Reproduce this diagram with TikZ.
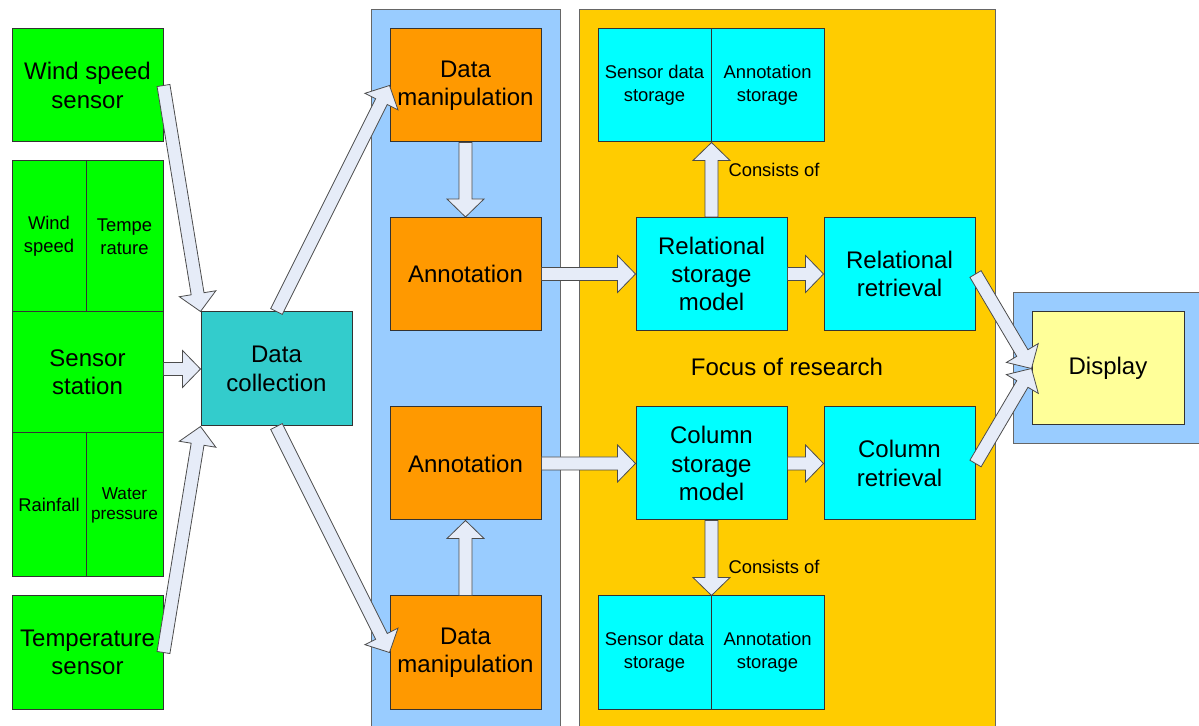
\documentclass[tikz,border=0pt]{standalone}
\usepackage{fontspec}
\setmainfont{Liberation Sans}
\usetikzlibrary{calc}

\definecolor{sensorgreen}{RGB}{0,255,0}
\definecolor{collectteal}{RGB}{51,204,204}
\definecolor{panelblue}{RGB}{153,204,255}
\definecolor{procorange}{RGB}{255,153,0}
\definecolor{focusyellow}{RGB}{255,204,0}
\definecolor{storecyan}{RGB}{0,255,255}
\definecolor{displayyellow}{RGB}{255,255,153}
\definecolor{arrowfill}{RGB}{230,236,248}

%% fat arrow from #1 to #2
\newcommand{\fatarrow}[2]{%
  \draw[arrowdecorate] ($(#1)!3.25pt!90:(#2)$)
    -- ($($(#2)!9pt!(#1)$)!3.25pt!90:(#2)$)
    -- ($($(#2)!9pt!(#1)$)!9.25pt!90:(#2)$)
    -- (#2)
    -- ($($(#2)!9pt!(#1)$)!9.25pt!-90:(#2)$)
    -- ($($(#2)!9pt!(#1)$)!3.25pt!-90:(#2)$)
    -- ($(#1)!3.25pt!-90:(#2)$) -- cycle;
}

\begin{document}
\begin{tikzpicture}
[x=0.5pt,y=-0.5pt,
  boxdecorate/.style={shape=rectangle,draw=black!80,line width=0.5pt,inner sep=1pt,
    align=center,font=\fontsize{12}{14.2}\selectfont},
  smalltext/.style={font=\fontsize{9.2}{11.4}\selectfont},
  sensordecorate/.style={boxdecorate,fill=sensorgreen,minimum width=75.5pt,minimum height=56.5pt},
  processdecorate/.style={boxdecorate,fill=procorange,minimum width=75.5pt,minimum height=56.5pt},
  storedecorate/.style={boxdecorate,fill=storecyan,minimum width=75.5pt,minimum height=56.5pt},
  halfdecorate/.style={boxdecorate,smalltext,fill=storecyan,minimum width=56.5pt,minimum height=56.5pt},
  paneldecorate/.style={draw=black!60,line width=0.5pt},
  arrowdecorate/.style={draw=black!70,fill=arrowfill,line width=0.4pt,line join=miter}]
\useasboundingbox (0,0) rectangle (1199,726);
\clip (0,0) rectangle (1199,726);

%% panels
\path[paneldecorate,fill=panelblue] (371,10) rectangle (560,740);
\path[paneldecorate,fill=focusyellow] (579,10) rectangle (995,740);
\path[paneldecorate,fill=panelblue] (1013,293) rectangle (1210,444);

%% sensors
\node (ws) at (87.5,85.5) [sensordecorate] {Wind speed\\sensor};
\node (ts) at (87.5,652.5) [sensordecorate] {Temperature\\sensor};
\node (st) at (87.5,372.5) [sensordecorate,minimum height=60.5pt] {Sensor\\station};
\foreach \nodename/\x/\y/\w/\h/\txt in {stws/49/236.5/37/75.5/{Wind\\speed},
  sttp/124.5/236.5/38.5/75.5/{Tempe\\rature}, strf/49/505/37/72/{Rainfall}} {
  \node (\nodename) at (\x,\y) [boxdecorate,smalltext,fill=sensorgreen,
    minimum width=\w pt,minimum height=\h pt] {\txt};
}
\node (stwp) at (124.5,505) [boxdecorate,fill=sensorgreen,minimum width=38.5pt,
  minimum height=72pt,font=\fontsize{8.6}{10}\selectfont] {Water\\pressure};
\node (dc) at (276.5,369) [boxdecorate,fill=collectteal,minimum width=75.5pt,
  minimum height=57pt] {Data\\collection};

%% processing
\foreach \nodename/\y/\txt in {dm1/85.5/{Data\\manipulation}, an1/274/Annotation,
  an2/463.5/Annotation, dm2/652.5/{Data\\manipulation}} {
  \node (\nodename) at (465.5,\y) [processdecorate] {\txt};
}

%% storage and retrieval
\node (rsm) at (711.5,274) [storedecorate] {Relational\\storage\\model};
\node (rr) at (899.5,274) [storedecorate] {Relational\\retrieval};
\node (csm) at (711.5,463.5) [storedecorate] {Column\\storage\\model};
\node (cr) at (899.5,463.5) [storedecorate] {Column\\retrieval};
\foreach \nodename/\x/\y/\txt in {sd1/654.5/85.5/{Sensor data\\storage},
  as1/767.5/85.5/{Annotation\\storage}, sd2/654.5/652.5/{Sensor data\\storage},
  as2/767.5/652.5/{Annotation\\storage}} {
  \node (\nodename) at (\x,\y) [halfdecorate] {\txt};
}
\node (focus) at (787,367) [font=\fontsize{12}{14.2}\selectfont] {Focus of research};
\node (cons1) at (774,170) [smalltext] {Consists of};
\node (cons2) at (774,567) [smalltext] {Consists of};

%% display
\node (disp) at (1108,368.5) [boxdecorate,fill=displayyellow,minimum width=76pt,
  minimum height=56.5pt] {Display};

%% arrows
\fatarrow{ws.east}{dc.north west}
\fatarrow{st.east |- dc.west}{dc.west}
\fatarrow{ts.east}{dc.south west}
\fatarrow{dc.north}{dm1.west}
\fatarrow{dc.south}{dm2.west}
\fatarrow{dm1.south}{an1.north}
\fatarrow{dm2.north}{an2.south}
\fatarrow{an1.east}{rsm.west}
\fatarrow{an2.east}{csm.west}
\fatarrow{rsm.north}{sd1.south east}
\fatarrow{csm.south}{sd2.north east}
\fatarrow{rsm.east}{rr.west}
\fatarrow{csm.east}{cr.west}
\fatarrow{rr.east}{disp.west}
\fatarrow{cr.east}{disp.west}
\end{tikzpicture}
\end{document}
